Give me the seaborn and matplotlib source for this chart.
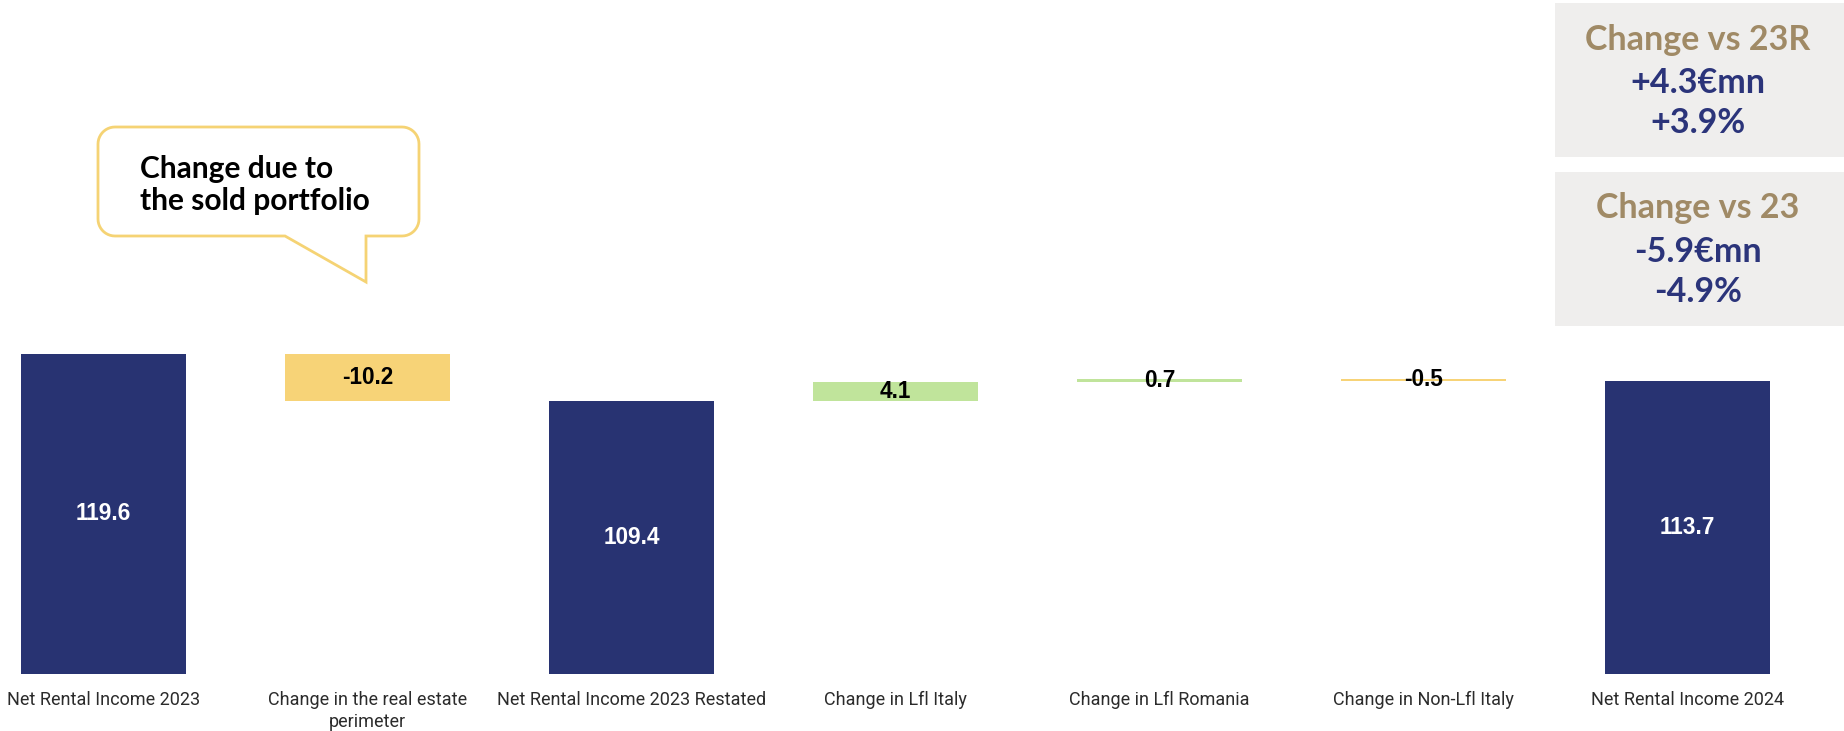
import matplotlib
matplotlib.use("Agg")
import matplotlib.pyplot as plt
import seaborn as sns
import pandas as pd
import numpy as np
from matplotlib.patches import Polygon, Rectangle

# data
categories = ["Net Rental Income 2023", "Change in the real estate\nperimeter",
              "Net Rental Income 2023 Restated", "Change in Lfl Italy",
              "Change in Lfl Romania", "Change in Non-Lfl Italy", "Net Rental Income 2024"]
values = [119.6, -10.2, 109.4, 4.1, 0.7, -0.5, 113.7]
is_total = [True, False, True, False, False, False, True]
value_labels = ["119.6", "-10.2", "109.4", "4.1", "0.7", "-0.5", "113.7"]

box_titles = ["Change vs 23R", "Change vs 23"]
box_lines = [["+4.3€mn", "+3.9%"], ["-5.9€mn", "-4.9%"]]
callout_text = "Change due to\nthe sold portfolio"

# colors
navy = "#283372"
yellow = "#F7D377"
green = "#C0E49B"
gold = "#A08A66"
navy_txt = "#2B347A"
gray_box = "#EFEEED"

# waterfall bottoms / tops
bottoms, tops, colors = [], [], []
run = 0
for v, tot in zip(values, is_total):
    if tot:
        bottoms.append(0)
        tops.append(v)
        colors.append(navy)
        run = v
    else:
        end = run + v
        bottoms.append(min(run, end))
        tops.append(max(run, end))
        colors.append(green if v > 0 else yellow)
        run = end

df = pd.DataFrame({"cat": categories, "top": tops, "bottom": bottoms})

W, H = 1844, 731
fig = plt.figure(figsize=(W / 100, H / 100), dpi=100)
fig.patch.set_facecolor("white")

def fx(px):
    return px / W

def fy(py):
    return 1 - py / H

base_px = 674
ax = fig.add_axes([0, fy(base_px), 1, base_px / H])

sns.barplot(data=df, x="cat", y="top", hue="cat", palette=colors, legend=False,
            width=0.625, saturation=1, ax=ax)
for p, b, t in zip(ax.patches, bottoms, tops):
    p.set_y(b)
    p.set_height(t - b)

ax.set_ylim(50, 196.5)
ax.set_xlim(-0.392, 6.593)
for s in ax.spines.values():
    s.set_visible(False)
ax.set_yticks([])
ax.set_xlabel("")
ax.set_ylabel("")
ax.set_facecolor("none")
ax.tick_params(axis="x", length=0, pad=12, labelsize=13, labelcolor="#2b2b2b")
for lbl in ax.get_xticklabels():
    lbl.set_family("Roboto")
    lbl.set_linespacing(1.3)

# value labels
for i, (b, t, lab, tot) in enumerate(zip(bottoms, tops, value_labels, is_total)):
    yb = max(b, 50)
    ax.text(i, (yb + t) / 2, lab, ha="center", va="center", fontsize=16.3,
            fontweight="bold", color="white" if tot else "black",
            family="Liberation Sans")

# callout bubble
x0, x1, y0, y1, r = 98, 419, 127, 236, 17
pts = [(x0 + r, y0), (x1 - r, y0)]
def arc(cx, cy, a0, a1):
    t = np.radians(np.linspace(a0, a1, 12))
    return list(zip(cx + r * np.cos(t), cy + r * np.sin(t)))
pts += arc(x1 - r, y0 + r, -90, 0)
pts += arc(x1 - r, y1 - r, 0, 90)
pts += [(366, y1), (366, 282), (285, y1), (x0 + r, y1)]
pts += arc(x0 + r, y1 - r, 90, 180)
pts += arc(x0 + r, y0 + r, 180, 270)
bubble = Polygon([(fx(a), fy(b)) for a, b in pts], closed=True, transform=fig.transFigure,
                 facecolor="white", edgecolor="#F5D374", linewidth=2)
fig.patches.append(bubble)
fig.text(fx(140), fy(185), callout_text, ha="left", va="center", fontsize=21.5,
         fontweight="bold", color="black", family="Lato", linespacing=1.2)

# summary boxes
box_y = [(3, 157), (172, 326)]
line_y = [(40, 83, 123), (208, 252, 292)]
for (ya, yb), ys, title, lines in zip(box_y, line_y, box_titles, box_lines):
    fig.patches.append(Rectangle((fx(1555), fy(yb)), fx(1844) - fx(1555), (yb - ya) / H,
                                 transform=fig.transFigure, facecolor=gray_box, edgecolor="none"))
    fig.text(fx(1698), fy(ys[0]), title, ha="center", va="center", fontsize=24.5,
             fontweight="bold", color=gold, family="Lato")
    for yy, txt in zip(ys[1:], lines):
        fig.text(fx(1698), fy(yy), txt, ha="center", va="center", fontsize=24.5,
                 fontweight="bold", color=navy_txt, family="Lato")

fig.savefig("out.png", dpi=100, facecolor="white")
